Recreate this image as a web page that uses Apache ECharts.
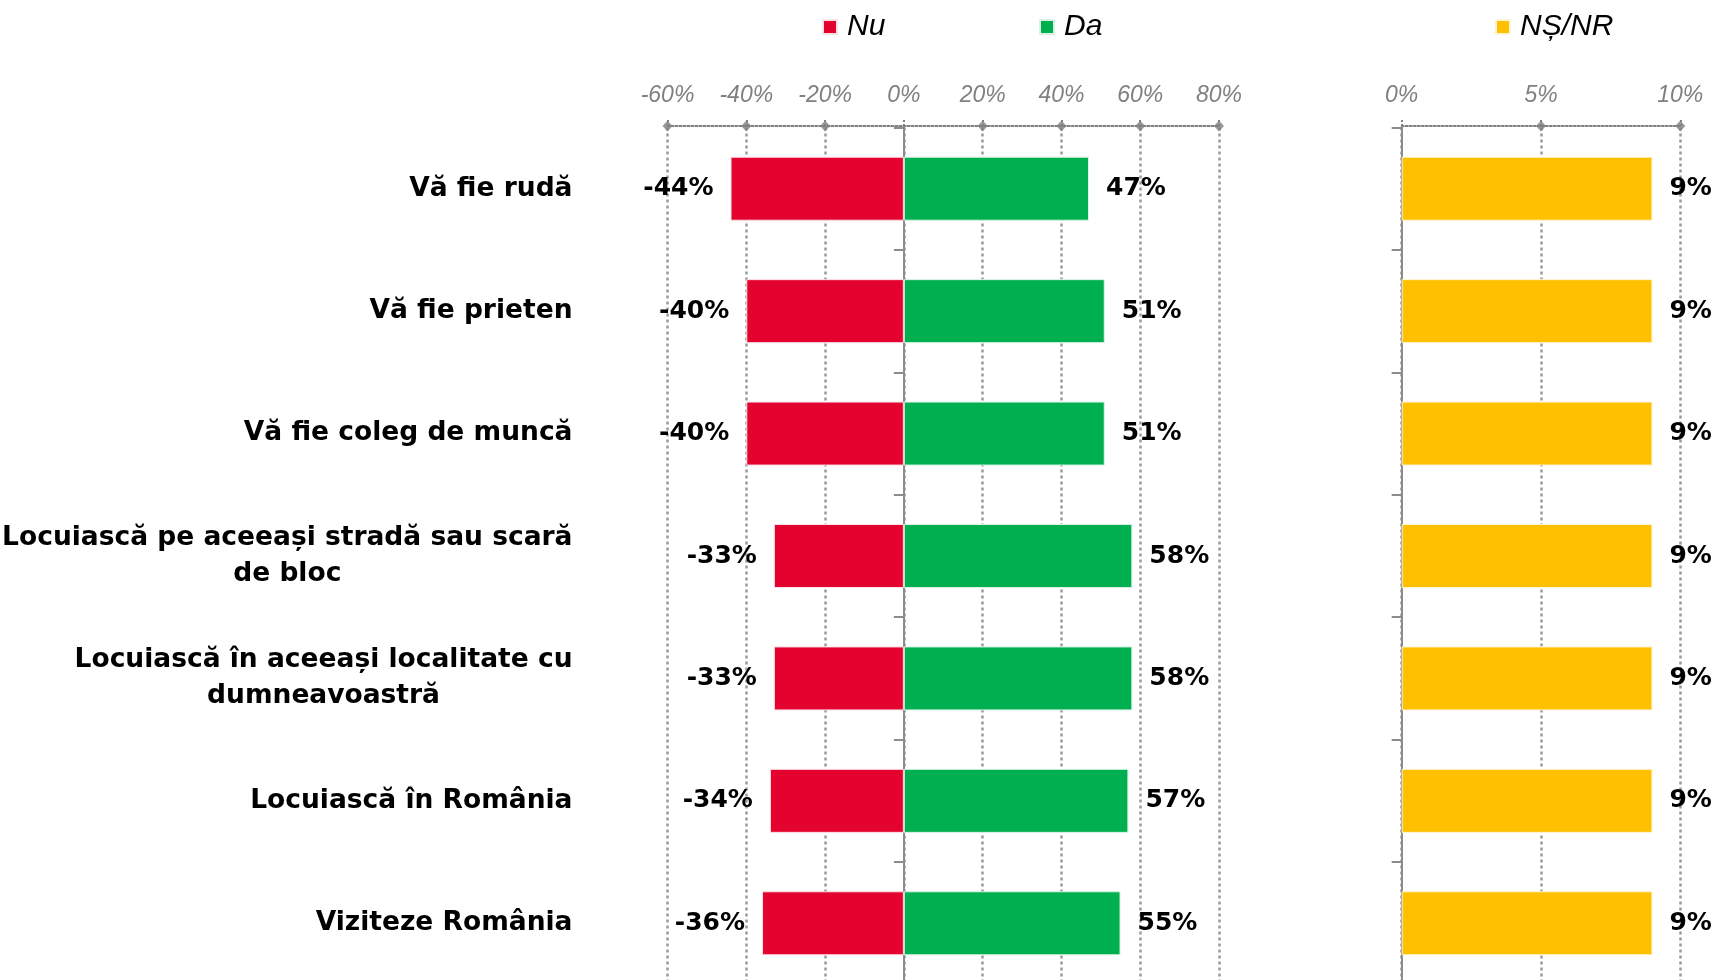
<!DOCTYPE html>
<html>
<head>
<meta charset="utf-8">
<script src="https://cdn.jsdelivr.net/npm/echarts@6/dist/echarts.min.js"></script>
<style>
  html, body { margin: 0; padding: 0; background: #fff; }
  #chart { width: 1713px; height: 980px; }
</style>
</head>
<body>
<div id="chart"></div>
<script>
const categories = [
  'Vă fie rudă',
  'Vă fie prieten',
  'Vă fie coleg de muncă',
  'Locuiască pe aceeași stradă sau scară\nde bloc',
  'Locuiască în aceeași localitate cu\ndumneavoastră',
  'Locuiască în România',
  'Viziteze România'
]
const nuValues = [-44, -40, -40, -33, -33, -34, -36]
const daValues = [47, 51, 51, 58, 58, 57, 55]
const nsValues = [9, 9, 9, 9, 9, 9, 9]
const leftTicks = [-60, -40, -20, 0, 20, 40, 60, 80]
const rightTicks = [0, 5, 10]

const FONT = 'DejaVu Sans'
const FONT2 = 'Liberation Sans'
const GRAY = '#808080'
const chart = echarts.init(document.getElementById('chart'))

const valueLabel = (pos) => ({
  show: true,
  position: pos,
  distance: 17,
  formatter: '{c}%',
  fontFamily: FONT,
  fontWeight: 'bold',
  fontSize: 25,
  color: '#000'
})

const xAxisCommon = {
  type: 'value',
  position: 'top',
  offset: 1.5,
  axisLine: { show: true, onZero: false, lineStyle: { color: GRAY, type: [2, 2], width: 2 } },
  axisTick: { show: true, length: 6, lineStyle: { color: GRAY, type: [2, 2], width: 2 } },
  splitLine: { show: true, lineStyle: { color: '#9a9a9a', type: [3, 3], width: 2.5 } },
  axisLabel: {
    formatter: '{value}%', margin: 19,
    fontFamily: FONT2, fontStyle: 'italic', fontSize: 23, color: GRAY
  }
}

const catAxis = (grid, labels) => ({
  gridIndex: grid,
  type: 'category',
  data: categories,
  inverse: true,
  axisLine: { show: true, lineStyle: { color: '#8c8c8c', width: 2 } },
  axisTick: { show: true, length: 10, lineStyle: { color: '#8c8c8c', width: 2 } },
  splitLine: { show: false },
  axisLabel: labels ? {
    margin: 95,
    formatter: v => '{c|' + v.split('\n').join('}\n{c|') + '}',
    rich: {
      c: { align: 'center', fontFamily: FONT, fontWeight: 'bold', fontSize: 26.5, color: '#000', lineHeight: 36 }
    }
  } : { show: false }
})

const diamonds = (ticks, xi, yi) => ({
  type: 'scatter',
  name: 'ticks',
  xAxisIndex: xi,
  yAxisIndex: yi,
  symbol: 'diamond',
  symbolSize: [10, 11],
  symbolOffset: [0, -1.5],
  clip: false,
  silent: true,
  itemStyle: { color: GRAY },
  data: ticks.filter(t => t !== 0).map(t => [t, 1])
})

const legendBox = (name, left) => ({
  data: [name],
  left: left,
  top: 7,
  itemWidth: 14,
  itemHeight: 14,
  icon: 'rect',
  textStyle: { fontFamily: FONT2, fontStyle: 'italic', fontSize: 30, color: '#000', padding: [0, 0, 0, 5] }
})

const option = {
  animation: false,
  backgroundColor: '#fff',
  legend: [
    legendBox('Nu', 817),
    legendBox('Da', 1034),
    legendBox('NȘ/NR', 1490)
  ],
  grid: [
    { left: 667.5, width: 551.5, top: 127.5, height: 857, outerBoundsMode: 'none', containLabel: false },
    { left: 1401.7, width: 278.6, top: 127.5, height: 857, outerBoundsMode: 'none', containLabel: false }
  ],
  xAxis: [
    Object.assign({}, xAxisCommon, { gridIndex: 0, min: -60, max: 80, interval: 20 }),
    Object.assign({}, xAxisCommon, { gridIndex: 1, min: 0, max: 10, interval: 5 })
  ],
  yAxis: [
    catAxis(0, true),
    { gridIndex: 0, type: 'value', min: 0, max: 1, show: false },
    catAxis(1, false),
    { gridIndex: 1, type: 'value', min: 0, max: 1, show: false }
  ],
  series: [
    {
      name: 'Nu', type: 'bar', stack: 'total', xAxisIndex: 0, yAxisIndex: 0,
      barWidth: 64, data: nuValues,
      itemStyle: { color: '#e4032e', borderColor: '#fbe0e5', borderWidth: 1 },
      label: valueLabel('left')
    },
    {
      name: 'Da', type: 'bar', stack: 'total', xAxisIndex: 0, yAxisIndex: 0,
      barWidth: 64, data: daValues,
      itemStyle: { color: '#00b050', borderColor: '#d9f3e3', borderWidth: 1 },
      label: valueLabel('right')
    },
    {
      name: 'NȘ/NR', type: 'bar', xAxisIndex: 1, yAxisIndex: 2,
      barWidth: 64, data: nsValues,
      itemStyle: { color: '#ffc000', borderColor: '#fff4d6', borderWidth: 1 },
      label: valueLabel('right')
    },
    diamonds(leftTicks, 0, 1),
    diamonds(rightTicks, 1, 3)
  ]
}

chart.setOption(option)
window.addEventListener('resize', () => chart.resize())
</script>
</body>
</html>
